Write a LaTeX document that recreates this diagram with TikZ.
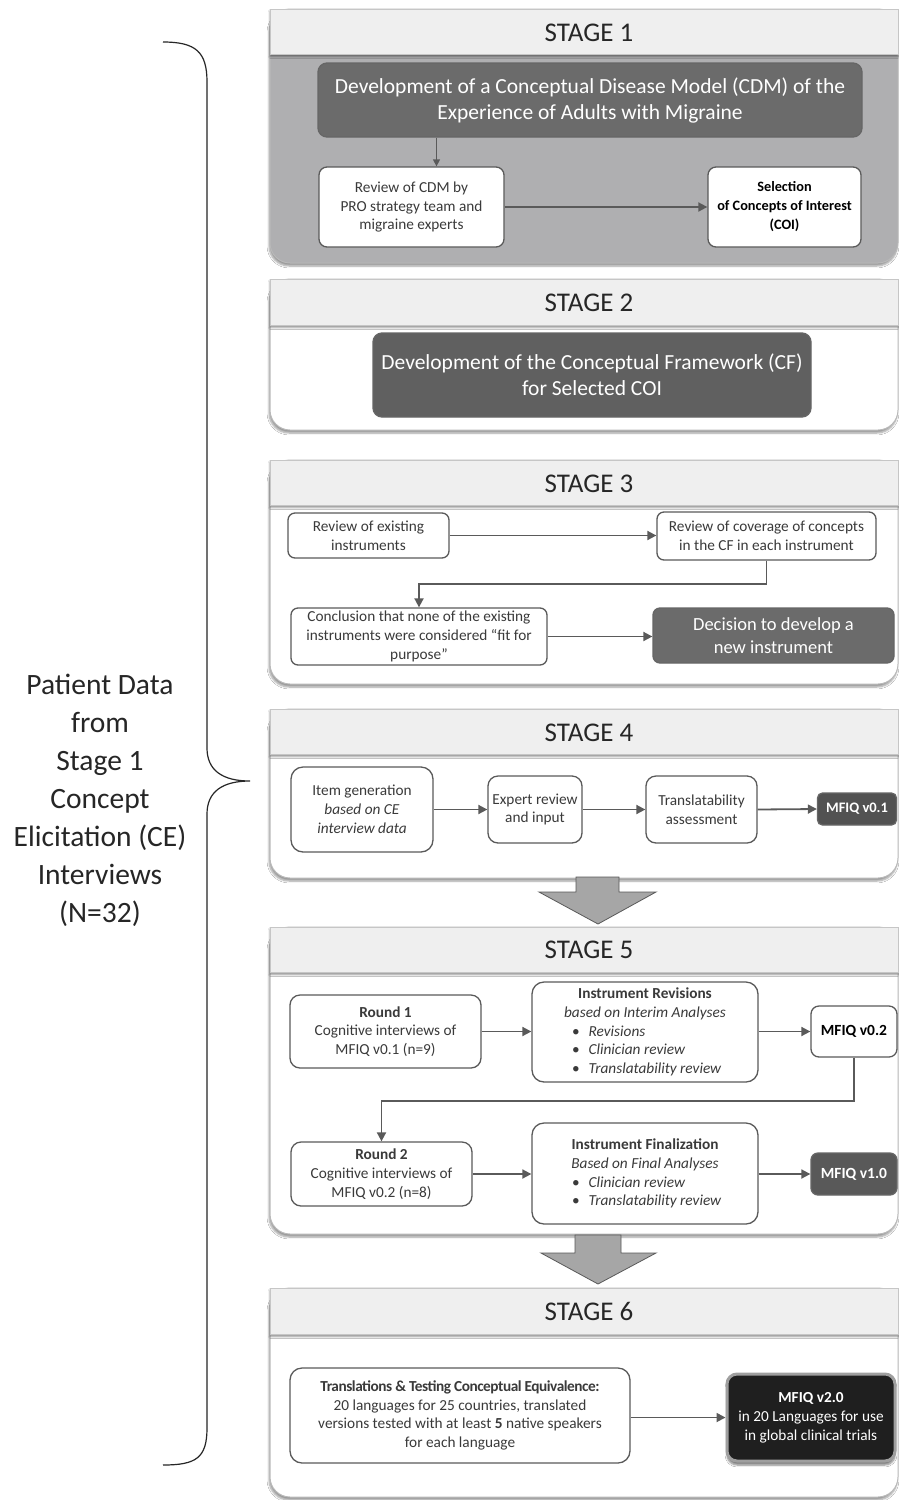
\documentclass[tikz,border=0pt]{standalone}
\usepackage{fontspec}
\setmainfont{Carlito}
\usetikzlibrary{arrows.meta,shadows.blur,calc}
\definecolor{hdr}{HTML}{EFEFEF}
\definecolor{edge}{HTML}{5A5A5A}
\definecolor{darkfill}{HTML}{6B6B6B}
\definecolor{s1body}{HTML}{AFAFB1}
\definecolor{bigarrow}{HTML}{A6A6A6}
\definecolor{txt}{HTML}{3A3A3A}
\tikzset{
 panel/.style={draw=gray!55, line width=1pt, rounded corners=20, fill=white,
   blur shadow={shadow xshift=-1pt, shadow yshift=-3pt, shadow blur steps=6, shadow opacity=40}},
 hdrbox/.style={draw=gray!45, line width=0.8pt, fill=hdr,
   blur shadow={shadow xshift=0pt, shadow yshift=-2.5pt, shadow blur steps=4, shadow opacity=45}},
 stagelbl/.style={font=\fontsize{27}{32}\selectfont, text=black!85, inner sep=0},
 wbox/.style={draw=edge, line width=1.3pt, rounded corners=8, fill=white, align=center, inner sep=0,
   font=\fontsize{15.3}{18.8}\selectfont, text=txt},
 dbox/.style={draw=black!60, line width=1.3pt, rounded corners=9, fill=darkfill, align=center, inner sep=0, text=white},
 conn/.style={draw=edge, line width=1.8pt, -{Triangle[length=9pt,width=9pt]}},
 thinconn/.style={draw=edge, line width=1.3pt, -{Triangle[length=7pt,width=7pt]}},
 big/.style={fill=bigarrow, draw=gray!70!black, line width=0.8pt},
 brace/.style={draw=black!85, line width=1.2pt},
 sidetext/.style={align=center, font=\fontsize{29.5}{38}\selectfont, text=black!85, inner sep=0},
}
\newcommand{\bul}[2]{\makebox[#1][l]{\textbullet\hspace{9pt}\textit{#2}}}
\begin{document}
\begin{tikzpicture}[x=1pt,y=-1pt]
\useasboundingbox (0,0) rectangle (899,1500);
\fill[white] (0,0) rectangle (899,1500);

% ---------- side brace and text ----------
\draw[brace] (163,42) .. controls (196,42) and (207,52) .. (207,82) -- (207,748)
  .. controls (207,770) and (222,781) .. (250,781)
  .. controls (222,781) and (207,792) .. (207,814) -- (207,1428)
  .. controls (207,1458) and (196,1465) .. (163,1465);
\node[sidetext] (side) at (100,800) {Patient Data\\from\\Stage 1\\Concept\\Elicitation (CE)\\Interviews\\(N=32)};

% ---------- STAGE 1 ----------
\draw[panel, fill=s1body] (270,9) rectangle (898,263);
\draw[hdrbox] (270,9) rectangle (898,54);
\node[stagelbl] (t1) at (589,33) {STAGE 1};
\node[dbox, minimum width=544, minimum height=74, font=\fontsize{21.5}{26}\selectfont] (d1) at (590,100)
  {Development of a Conceptual Disease Model (CDM) of the\\Experience of Adults with Migraine};
\node[wbox, minimum width=185, minimum height=80] (r1) at (411.5,207)
  {Review of CDM by\\PRO strategy team and\\migraine experts};
\node[wbox, minimum width=153, minimum height=80, text=black, font=\bfseries\fontsize{14.3}{19}\selectfont] (sel) at (784.5,207)
  {Selection\\of Concepts of Interest\\(COI)};
\path ($(r1.north)+(25,0)$) coordinate (a1);
\draw[thinconn] (a1 |- d1.south) -- (a1);
\draw[conn] (r1.east) -- (sel.west);

% ---------- STAGE 2 ----------
\draw[panel] (270,279) rectangle (898,430);
\draw[hdrbox] (270,279) rectangle (898,325);
\node[stagelbl] (t2) at (589,303) {STAGE 2};
\node[dbox, fill=darkfill!90!black, minimum width=438, minimum height=84, font=\fontsize{21.5}{26}\selectfont] (d2) at (592,375)
  {Development of the Conceptual Framework (CF)\\for Selected COI};

% ---------- STAGE 3 ----------
\draw[panel] (270,460) rectangle (898,684);
\draw[hdrbox] (270,460) rectangle (898,505);
\node[stagelbl] (t3) at (589,484) {STAGE 3};
\node[wbox, minimum width=161, minimum height=45, rounded corners=7] (e1) at (368.5,535.5)
  {Review of existing\\instruments};
\node[wbox, minimum width=219, minimum height=48, rounded corners=7] (e2) at (766.5,536)
  {Review of coverage of concepts\\in the CF in each instrument};
\node[wbox, minimum width=256, minimum height=57, rounded corners=7] (e3) at (419,636.5)
  {Conclusion that none of the existing\\instruments were considered “fit for\\purpose”};
\node[dbox, minimum width=241, minimum height=55, rounded corners=7, font=\fontsize{18.5}{22.5}\selectfont] (e4) at (773.5,635.5)
  {Decision to develop a\\new instrument};
\draw[conn] (e1.east) -- (e1.east -| e2.west);
\draw[conn] (e2.south) -- ++(0,23) -| (e3.north);
\draw[conn] (e3.east) -- (e3.east -| e4.west);

% ---------- STAGE 4 ----------
\draw[panel] (270,709) rectangle (898,878);
\draw[hdrbox] (270,709) rectangle (898,754);
\node[stagelbl] (t4) at (589,733) {STAGE 4};
\node[wbox, minimum width=142, minimum height=85, rounded corners=12] (f1) at (362,809.5)
  {Item generation\\\textit{based on CE}\\\textit{interview data}};
\node[wbox, minimum width=94, minimum height=67, rounded corners=10] (f2) at (535,809.5)
  {Expert review\\and input};
\node[wbox, minimum width=111, minimum height=67, rounded corners=10] (f3) at (701.5,809.5)
  {Translatability\\assessment};
\node[dbox, fill=black!68, minimum width=79, minimum height=32, rounded corners=5, font=\bfseries\fontsize{14.5}{17}\selectfont] (f4) at (857,809)
  {MFIQ v0.1};
\draw[conn] (f1.east) -- (f2.west);
\draw[conn] (f2.east) -- (f3.west);
\draw[conn] (f3.east) -- (f4.west);

% big arrow 4 -> 5
\draw[big] (576,877) -- (619,877) -- (619,892) -- (656,892) -- (598,924) -- (539,892) -- (576,892) -- cycle;

% ---------- STAGE 5 ----------
\draw[panel] (270,927) rectangle (898,1234);
\draw[hdrbox] (270,927) rectangle (898,972);
\node[stagelbl] (t5) at (589,950) {STAGE 5};
\node[wbox, minimum width=191, minimum height=73, rounded corners=10] (g1) at (385.5,1031.5)
  {\textbf{Round 1}\\Cognitive interviews of\\MFIQ v0.1 (n=9)};
\node[wbox, minimum width=226, minimum height=100, rounded corners=12] (g2) at (645,1032)
  {\textbf{Instrument Revisions}\\\textit{based on Interim Analyses}\\\bul{146pt}{Revisions}\\\bul{146pt}{Clinician review}\\\bul{146pt}{Translatability review}};
\node[wbox, minimum width=86, minimum height=51, rounded corners=8, text=black, font=\bfseries\fontsize{15.5}{18}\selectfont] (g3) at (854,1031.5)
  {MFIQ v0.2};
\node[wbox, minimum width=181, minimum height=64, rounded corners=10] (g4) at (381.5,1174)
  {\textbf{Round 2}\\Cognitive interviews of\\MFIQ v0.2 (n=8)};
\node[wbox, minimum width=226, minimum height=101, rounded corners=12] (g5) at (645,1173.5)
  {\textbf{Instrument Finalization}\\\textit{Based on Final Analyses}\\\bul{146pt}{Clinician review}\\\bul{146pt}{Translatability review}};
\node[dbox, fill=black!65, minimum width=86, minimum height=42, rounded corners=7, font=\bfseries\fontsize{15.5}{18}\selectfont] (g6) at (854,1174)
  {MFIQ v1.0};
\draw[conn] (g1.east) -- (g1.east -| g2.west);
\draw[conn] (g2.east |- g3.west) -- (g3.west);
\draw[conn] (g3.south) -- ++(0,43) -| (g4.north);
\draw[conn] (g4.east) -- (g4.east -| g5.west);
\draw[conn] (g5.east |- g6.west) -- (g6.west);

% big arrow 5 -> 6
\draw[big] (575,1235) -- (621,1235) -- (621,1253) -- (656,1253) -- (598,1284) -- (541,1253) -- (575,1253) -- cycle;

% ---------- STAGE 6 ----------
\draw[panel] (270,1288) rectangle (898,1497);
\draw[hdrbox] (270,1288) rectangle (898,1334);
\node[stagelbl] (t6) at (589,1311) {STAGE 6};
\node[wbox, minimum width=340, minimum height=95, rounded corners=12] (h1) at (460,1415.5)
  {{\bfseries\addfontfeature{LetterSpace=-3}Translations \& Testing Conceptual Equivalence:}\\20 languages for 25 countries, translated\\versions tested with at least \textbf{5} native speakers\\for each language};
\node[dbox, fill=black!88, draw=gray!75, line width=3pt, minimum width=168, minimum height=87, rounded corners=10,
   font=\fontsize{15.3}{19}\selectfont,
   blur shadow={shadow xshift=0pt, shadow yshift=-4pt, shadow blur steps=6, shadow opacity=50}] (h2) at (811,1417.5)
  {\textbf{MFIQ v2.0}\\in 20 Languages  for use\\in global clinical trials};
\draw[conn] (h1.east |- h2.west) -- (h2.west);
\end{tikzpicture}
\end{document}
